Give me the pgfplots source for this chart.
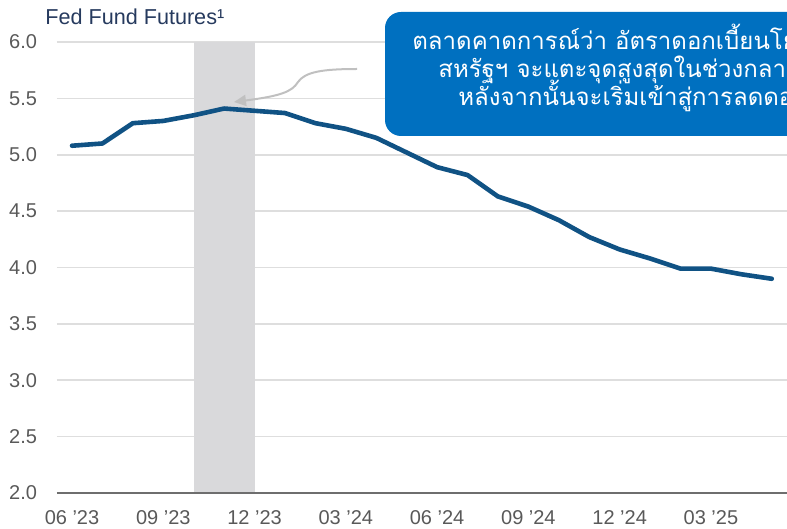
\documentclass[border=0pt]{standalone}
\usepackage{pgfplots}
\pgfplotsset{compat=1.18}
\usepackage{pgfplotstable}
\usetikzlibrary{arrows.meta}
\usepackage{fontspec}
\setmainfont{Liberation Sans}
\newfontfamily\thaifont[Script=Thai]{Loma}

\definecolor{fedblue}{RGB}{16,82,132}
\definecolor{boxblue}{RGB}{0,112,192}
\definecolor{band}{RGB}{217,217,219}
\definecolor{gridgray}{RGB}{222,222,222}
\definecolor{axisgray}{RGB}{110,110,110}
\definecolor{labelgray}{RGB}{89,89,89}
\definecolor{titleblue}{RGB}{38,58,94}
\definecolor{arrowgray}{RGB}{192,192,192}

% month index (0 = 06'23) and implied fed funds rate
\pgfplotstableread{
m rate
0 5.08
1 5.10
2 5.28
3 5.30
4 5.35
5 5.41
6 5.39
7 5.37
8 5.28
9 5.23
10 5.15
11 5.02
12 4.89
13 4.82
14 4.63
15 4.54
16 4.42
17 4.27
18 4.16
19 4.08
20 3.99
21 3.99
22 3.94
23 3.90
}\futures

\begin{document}
\begin{tikzpicture}
\begin{axis}[
  at={(28.5pt,-246.5pt)}, anchor=south west,
  scale only axis, width=365pt, height=225.5pt,
  xmin=-0.493, xmax=23.5, ymin=2, ymax=6,
  axis line style={draw=none},
  xtick={0,3,...,21},
  xticklabels={06 '23,09 '23,12 '23,03 '24,06 '24,09 '24,12 '24,03 '25},
  ytick={2,2.5,...,6},
  yticklabel style={/pgf/number format/fixed,/pgf/number format/fixed zerofill,
    /pgf/number format/precision=1,xshift=-6.5pt},
  major tick length=0pt,
  ymajorgrids, grid style={gridgray,line width=0.8pt},
  tick label style={font=\fontsize{10}{12}\selectfont,text=labelgray},
  xticklabel style={yshift=-5pt},
  /pgf/number format/assume math mode=true,
]
\fill[band] (axis cs:4,2) rectangle (axis cs:6,6);
\addplot[fedblue,line width=2.3pt,line join=round,line cap=round] table[x=m,y=rate]{\futures};
\draw[axisgray,line width=0.8pt] (rel axis cs:0,0) -- (rel axis cs:1,0);
\end{axis}

\begin{scope}[x=0.5pt,y=-0.5pt]
\node[anchor=base west,inner sep=0,text=titleblue,font=\fontsize{10.8}{13}\selectfont] at (45,25) {Fed Fund Futures¹};
\draw[arrowgray,line width=1pt,-{Triangle[length=6pt,width=5.5pt]}]
  (357,69) .. controls (322,69) and (305,72) .. (298,82)
  .. controls (292,92) and (280,96) .. (234,102);
\fill[boxblue,rounded corners=8pt] (385,12) rectangle (840,136);
\begin{scope}[every node/.style={anchor=base west,inner sep=0,text=white,font=\thaifont\fontsize{12}{14}\selectfont}]
\node at (412,50) {ตลาดคาดการณ์ว่า อัตราดอกเบี้ยนโยบายของ};
\node at (438,78) {สหรัฐฯ จะแตะจุดสูงสุดในช่วงกลางปีนี้};
\node at (458,106) {หลังจากนั้นจะเริ่มเข้าสู่การลดดอกเบี้ย};
\end{scope}
\pgfresetboundingbox
\useasboundingbox (0,0) rectangle (787,529);
\end{scope}
\end{tikzpicture}
\end{document}
